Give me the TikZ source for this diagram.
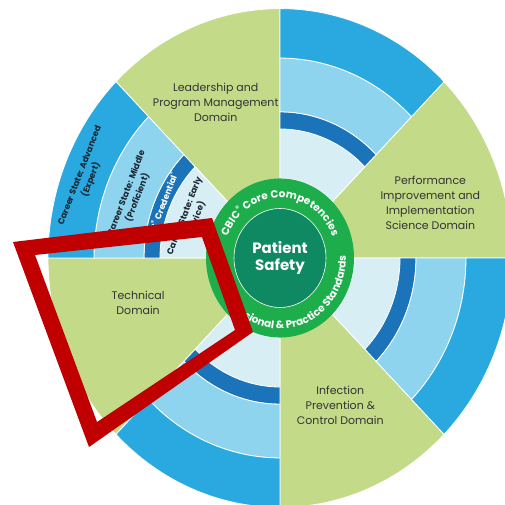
\documentclass[tikz,border=0pt]{standalone}
\usepackage{fontspec}
\setmainfont{Poppins}
\usetikzlibrary{shapes, decorations.text}

\definecolor{domaingreen}{HTML}{C3DB88}
\definecolor{outerblue}{HTML}{29A9E0}
\definecolor{midblue}{HTML}{8FD4EF}
\definecolor{darkblue}{HTML}{1B74BA}
\definecolor{paleblue}{HTML}{D7EEF5}
\definecolor{ringgreen}{HTML}{1EAD4B}
\definecolor{coregreen}{HTML}{0F8962}
\definecolor{framered}{HTML}{C00000}
\definecolor{careerink}{HTML}{1C2733}

\begin{document}
\begin{tikzpicture}[x=1pt, y=1pt]
  \tikzset{domainlabel/.style={align=center, text=black!80, font=\fontsize{11}{15}\selectfont}}
  \tikzset{career/.style={align=center, rotate=69, text=careerink, font=\bfseries\fontsize{8.6}{12}\selectfont}}
  \tikzset{band/.style={draw=white, line width=0.8pt}}
  \tikzset{ringtext/.style={decorate, decoration={text along path, text align=center, text color=white}}}

  \useasboundingbox (0,0) rectangle (505,504);
  \clip (0,0) rectangle (505,504);
  \fill[white] (0,0) rectangle (505,504);

  \begin{scope}[shift={(280,246)}, yscale=1.075]
    \foreach \a in {0,90,180,270}
      \filldraw[band, fill=domaingreen] (0,0) -- (\a:232) arc[start angle=\a, end angle=\a+45, radius=232] -- cycle;
    \foreach \a in {45,135,225,315} {
      \foreach \rin/\rout/\col in {74/120/paleblue, 120/136/darkblue, 136/186/midblue, 186/232/outerblue}
        \filldraw[band, fill=\col] (\a:\rin) -- (\a:\rout) arc[start angle=\a, end angle=\a+45, radius=\rout]
          -- ({\a+45}:\rin) arc[start angle=\a+45, end angle=\a, radius=\rin] -- cycle;
    }

    \fill[ringgreen] (0,0) circle[radius=74];
    \node[ellipse, fill=coregreen, draw=white, line width=0.6pt, minimum width=92, minimum height=99,
      inner sep=0, text=white, align=center, font=\bfseries\fontsize{15}{17}\selectfont] (safety) at (0,0) {Patient\\Safety};

    \path[ringtext, decoration={text={|\bfseries\fontsize{10.5}{12}\selectfont|CBIC{\textsuperscript{®}} Core Competencies}}]
      (165:56) arc[start angle=165, end angle=15, radius=56];
    \path[ringtext, decoration={text align=right, text={|\bfseries\fontsize{10.5}{12}\selectfont|Professional {\&} Practice Standards}}]
      (175:66) arc[start angle=175, end angle=362, radius=66];

    \node[career] (advanced) at (159:208) {Career State: Advanced\\(Expert)};
    \node[career] (middle) at (158.5:159) {Career State: Middle\\(Proficient)};
    \node[career, text=white] (credential) at (157.5:128) {CIC\textsuperscript{®} Credential\textsuperscript{®}};
    \node[career] (early) at (157.5:97) {Career State: Early\\(Novice)};

    \node[domainlabel] (leadership) at (114:158) {Leadership and\\Program Management\\Domain};
    \node[domainlabel] (performance) at (19:159) {Performance\\Improvement and\\Implementation\\Science Domain};
    \node[domainlabel] (technical) at (196.5:148) {Technical\\Domain};
    \node[domainlabel] (infection) at (293.7:150) {Infection\\Prevention \&\\Control Domain};
  \end{scope}

  \fill[framered, even odd rule] (13,262) -- (212,286) -- (253,172) -- (89,57) -- cycle
    (35,249) -- (202,267) -- (235,174) -- (97,82) -- cycle;
\end{tikzpicture}
\end{document}
